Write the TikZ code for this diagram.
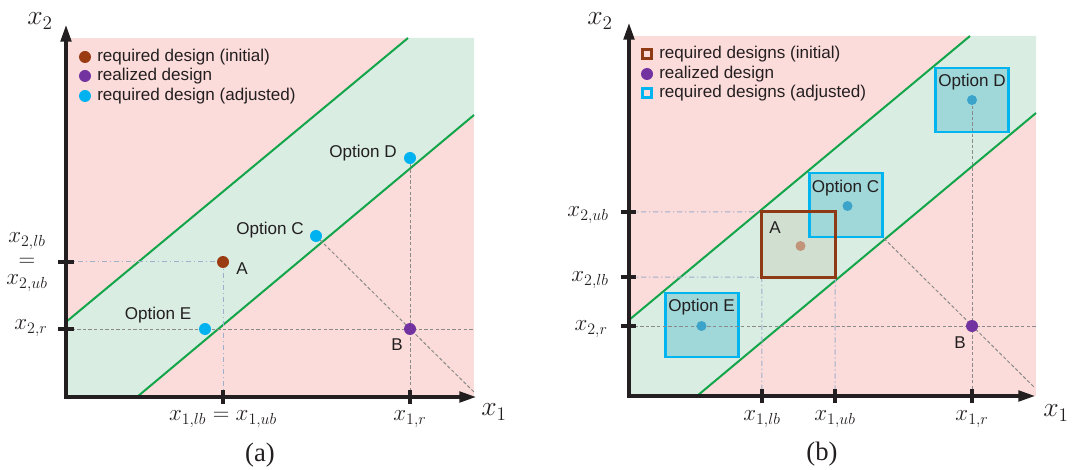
\documentclass[tikz,border=0pt]{standalone}
\usepackage[no-math]{fontspec}
\newfontfamily\arialf{Liberation Sans}
\newfontfamily\timesf{Liberation Serif}
\usetikzlibrary{arrows.meta}
\definecolor{bgpink}{HTML}{FCDCDA}
\definecolor{bandg}{HTML}{D9EDE3}
\definecolor{greenln}{HTML}{13A54A}
\definecolor{axcol}{HTML}{231F20}
\definecolor{txtcol}{HTML}{231F20}
\definecolor{dotbrown}{HTML}{9B3B12}
\definecolor{dotpurple}{HTML}{7232A0}
\definecolor{dotcyan}{HTML}{00B2F0}
\definecolor{boxcyan}{HTML}{00B4F0}
\definecolor{boxteal}{HTML}{A0D7D8}
\definecolor{boxbrown}{HTML}{8E3A14}
\definecolor{boxAfill}{HTML}{D0DFD0}
\definecolor{dotblue}{HTML}{3CA3CB}
\definecolor{dottan}{HTML}{C2957A}
\definecolor{grayln}{HTML}{8A8A8A}
\definecolor{ddln}{HTML}{9EAFCB}
\tikzset{
  axisln/.style={draw=axcol, line width=2.3pt, line join=miter,
    {Triangle[length=12.5pt,width=8pt]}-{Triangle[length=12.5pt,width=8pt]}},
  tickln/.style={draw=axcol, line width=2.3pt},
  bandln/.style={draw=greenln, line width=1.5pt},
  gdash/.style={draw=grayln, line width=0.75pt, dash pattern=on 2.6pt off 1.6pt},
  ddash/.style={draw=ddln, line width=0.75pt, dash pattern=on 4pt off 2pt on 1pt off 2pt},
  dotn/.style={circle, inner sep=0pt, minimum size=9pt, draw=none},
  sdotn/.style={circle, inner sep=0pt, minimum size=7.5pt, draw=none},
  lbl/.style={font=\arialf\fontsize{12.8}{15}\selectfont, text=txtcol, inner sep=0pt},
  mlab/.style={font=\fontsize{17}{19}\selectfont, text=txtcol, inner sep=0pt},
  biglab/.style={font=\fontsize{22}{24}\selectfont, text=txtcol, inner sep=0pt},
  capn/.style={font=\timesf\fontsize{20}{22}\selectfont, text=txtcol, inner sep=0pt},
  optbox/.style={draw=boxcyan, fill=boxteal, line width=2.2pt, inner sep=0pt,
    minimum width=54.75pt, minimum height=48pt},
  abox/.style={fill=boxAfill, draw=none, inner sep=0pt,
    minimum width=54.75pt, minimum height=48.75pt},
  legsq/.style={draw=#1, line width=1.8pt, inner sep=0pt, minimum size=6.5pt},
}
\begin{document}
\begin{tikzpicture}[x=0.75pt,y=-0.75pt]
\useasboundingbox (0,0) rectangle (1074,470);
%%%%%%%%%%%%%%%% panel (a)
\fill[bgpink] (66,38) rectangle (474,397);
\fill[bandg] (66,322) -- (408,38) -- (474,38) -- (474,115) -- (137,397) -- (66,397) -- cycle;
\coordinate (aUL1) at (66,322);
\coordinate (aUL2) at (408,38);
\coordinate (aLL1) at (137,397);
\coordinate (aLL2) at (474,115);
\draw[bandln] (aUL1) -- (aUL2);
\draw[bandln] (aLL1) -- (aLL2);
\coordinate (pA) at (223,262);
\coordinate (pB) at (410,329);
\coordinate (pC) at (316,236);
\coordinate (pD) at (410,158);
\coordinate (pE) at (205,329);
\coordinate (aO) at (66,397);
\coordinate (aYtip) at (66,25);
\coordinate (aXtip) at (476,397);
\coordinate (aYt1) at (66,262);
\coordinate (aYt2) at (66,329);
\coordinate (aXt1) at (223,397);
\coordinate (aXt2) at (410,397);
\coordinate (aR) at (474,329);
\coordinate (aDg) at (474,392);
\draw[ddash] (aYt1) -- (pA) -- (aXt1);
\draw[gdash] (aYt2) -- (aR);
\draw[gdash] (pD) -- (aXt2);
\draw[gdash] (pC) -- (aDg);
\draw[axisln] (aYtip) -- (aO) -- (aXtip);
\draw[tickln] ([xshift=-6pt]aYt1) -- ([xshift=6pt]aYt1);
\draw[tickln] ([xshift=-6pt]aYt2) -- ([xshift=6pt]aYt2);
\draw[tickln] ([yshift=-5.5pt]aXt1) -- ([yshift=5pt]aXt1);
\draw[tickln] ([yshift=-5.5pt]aXt2) -- ([yshift=5pt]aXt2);
\node[dotn, fill=dotbrown] (aA) at (pA) {};
\node[dotn, fill=dotpurple] (aB) at (pB) {};
\node[dotn, fill=dotcyan] (aC) at (pC) {};
\node[dotn, fill=dotcyan] (aD) at (pD) {};
\node[dotn, fill=dotcyan] (aE) at (pE) {};
\node[lbl] (aLE) at (158,315) {Option E};
\node[lbl] (aLC) at (270,230) {Option C};
\node[lbl] (aLD) at (363,153) {Option D};
\node[lbl] (aLA) at (242,269) {A};
\node[lbl] (aLB) at (397,345) {B};
% legend (a)
\node[dotn, fill=dotbrown] (aG1) at (85,57) {};
\node[dotn, fill=dotpurple] (aG2) at (85,76) {};
\node[dotn, fill=dotcyan] (aG3) at (85,96) {};
\node[lbl, anchor=west] (aT1) at (97,57) {required design (initial)};
\node[lbl, anchor=west] (aT2) at (97,76) {realized design};
\node[lbl, anchor=west] (aT3) at (97,96) {required design (adjusted)};
% axis labels (a)
\node[mlab] (aLx2lb) at (27,241) {$x_{2,lb}$};
\node[mlab] (aLeq) at (27,262) {$=$};
\node[mlab] (aLx2ub) at (27,283) {$x_{2,ub}$};
\node[mlab] (aLx2r) at (31,328) {$x_{2,r}$};
\node[mlab] (aLx1) at (223,419) {$x_{1,lb} = x_{1,ub}$};
\node[mlab] (aLx1r) at (410,419) {$x_{1,r}$};
\node[biglab] (aX1) at (494,412) {$x_1$};
\node[biglab] (aX2) at (40,21) {$x_2$};
\node[capn] (aCap) at (260,455) {(a)};
%%%%%%%%%%%%%%%% panel (b)
\fill[bgpink] (629,36) rectangle (1036,396);
\fill[bandg] (629,320) -- (970,36) -- (1036,36) -- (1036,113) -- (697,396) -- (629,396) -- cycle;
\coordinate (bUL1) at (629,320);
\coordinate (bUL2) at (970,36);
\coordinate (bLL1) at (697,396);
\coordinate (bLL2) at (1036,113);
\draw[bandln] (bUL1) -- (bUL2);
\draw[bandln] (bLL1) -- (bLL2);
\coordinate (qA) at (798.5,244.5);
\coordinate (qB) at (972,326);
\coordinate (qC) at (846,205);
\coordinate (qD) at (972,100);
\coordinate (qE) at (702,325);
\coordinate (bO) at (629,396);
\coordinate (bYtip) at (629,23);
\coordinate (bXtip) at (1035,396);
\coordinate (bYub) at (629,212);
\coordinate (bYlb) at (629,277);
\coordinate (bYr) at (629,326);
\coordinate (bXlb) at (762,396);
\coordinate (bXub) at (835,396);
\coordinate (bXr) at (972,396);
\coordinate (bR) at (1036,326);
\coordinate (bDg) at (1034,387);
% boxes
\node[abox] (bA) at (qA) {};
\node[optbox] (bC) at (qC) {};
\node[optbox] (bD) at (qD) {};
\node[optbox] (bE) at (qE) {};
% guide lines
\draw[ddash] (bYub) -- (bA.north west);
\draw[ddash] (bYlb) -- (bA.south west) -- (bXlb);
\draw[ddash] (bA.south east) -- (bXub);
\draw[gdash] (bYr) -- (bR);
\draw[gdash] (qD) -- (bXr);
\draw[gdash] (bC.south east) -- (bDg);
\draw[draw=boxbrown, line width=2.2pt] (bA.south west) rectangle (bA.north east);
\draw[axisln] (bYtip) -- (bO) -- (bXtip);
\draw[tickln] ([xshift=-6pt]bYub) -- ([xshift=5pt]bYub);
\draw[tickln] ([xshift=-6pt]bYlb) -- ([xshift=5pt]bYlb);
\draw[tickln] ([xshift=-6pt]bYr) -- ([xshift=5pt]bYr);
\draw[tickln] ([yshift=-5.5pt]bXlb) -- ([yshift=5pt]bXlb);
\draw[tickln] ([yshift=-5.5pt]bXub) -- ([yshift=5pt]bXub);
\draw[tickln] ([yshift=-5.5pt]bXr) -- ([yshift=5pt]bXr);
% dots
\node[sdotn, fill=dottan] (bdA) at (800.5,246) {};
\node[sdotn, fill=dotblue] (bdC) at (847.5,206) {};
\node[sdotn, fill=dotblue] (bdD) at (qD) {};
\node[sdotn, fill=dotblue] (bdE) at (701.5,326) {};
\node[dotn, fill=dotpurple] (bdB) at (qB) {};
\node[lbl] (bLA) at (775,228) {A};
\node[lbl] (bLC) at (845.5,188) {Option C};
\node[lbl] (bLD) at (972,82) {Option D};
\node[lbl] (bLE) at (701.5,307) {Option E};
\node[lbl] (bLB) at (960,343) {B};
% legend (b)
\node[legsq=boxbrown] (bG1) at (647,54) {};
\node[dotn, fill=dotpurple] (bG2) at (647,74) {};
\node[legsq=boxcyan] (bG3) at (647,93) {};
\node[lbl, anchor=west] (bT1) at (659,54) {required designs (initial)};
\node[lbl, anchor=west] (bT2) at (659,74) {realized design};
\node[lbl, anchor=west] (bT3) at (659,93) {required designs (adjusted)};
% axis labels (b)
\node[mlab, anchor=east] (bLx2ub) at (609,215) {$x_{2,ub}$};
\node[mlab, anchor=east] (bLx2lb) at (609,280) {$x_{2,lb}$};
\node[mlab, anchor=east] (bLx2r) at (608,329) {$x_{2,r}$};
\node[mlab] (bLx1lb) at (762,419) {$x_{1,lb}$};
\node[mlab] (bLx1ub) at (835,419) {$x_{1,ub}$};
\node[mlab] (bLx1r) at (972,419) {$x_{1,r}$};
\node[biglab] (bX1) at (1056,413) {$x_1$};
\node[biglab] (bX2) at (600,21) {$x_2$};
\node[capn] (bCap) at (822,454) {(b)};
\end{tikzpicture}
\end{document}
